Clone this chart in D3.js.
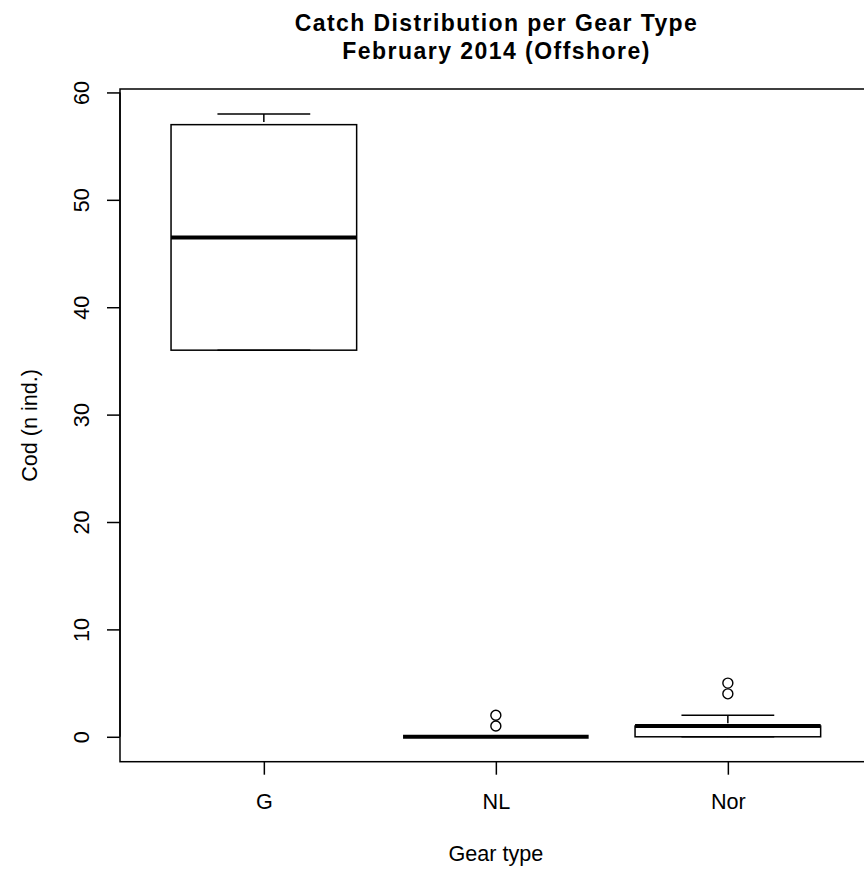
<!DOCTYPE html>
<html>
<head>
<meta charset="utf-8">
<script src="https://cdn.jsdelivr.net/npm/d3@7"></script>
<style>
  body { margin: 0; background: #fff; }
  svg { display: block; }
</style>
</head>
<body>
<svg id="chart" width="864" height="869"></svg>
<script>
// Box statistics per gear type (Cod, number of individuals)
const gearTypes   = ["G", "NL", "Nor"];
const whiskerLow  = [36, 0, 0];
const quartile1   = [36, 0, 0];
const medians     = [46.5, 0, 1];
const quartile3   = [57, 0, 1];
const whiskerHigh = [58, 0, 2];
const outliers    = [[], [1, 2], [4, 5]];

const yTicks = [0, 10, 20, 30, 40, 50, 60];
const titleLines = ["Catch Distribution per Gear Type", "February 2014 (Offshore)"];
const xTitle = "Gear type";
const yTitle = "Cod (n ind.)";

const svg = d3.select("#chart");
const plot = { left: 120, top: 89, bottom: 761.7, right: 871.7 };
const axisFont = "'Liberation Sans', Arial, Helvetica, sans-serif";
const axisSize = 21.6;

// x positions 1..n, padded like a base-graphics boxplot
const xLo = 0.5, xHi = gearTypes.length + 0.5, xPad = (xHi - xLo) * 0.04;
const x = d3.scaleLinear().domain([xLo - xPad, xHi + xPad]).range([plot.left, plot.right]);

const allVals = [].concat(whiskerLow, whiskerHigh, ...outliers);
const yMin = d3.min(allVals), yMax = d3.max(allVals), yPad = (yMax - yMin) * 0.04;
const y = d3.scaleLinear().domain([yMin - yPad, yMax + yPad]).range([plot.bottom, plot.top]);

const boxHalf = 0.4, capHalf = 0.2;
const g = svg.append("g");

gearTypes.forEach((name, i) => {
  const cx = i + 1;
  const grp = g.append("g").attr("fill", "none").attr("stroke", "#000");
  // dashed whiskers, drawn from the whisker end toward the hinge
  grp.append("line")
    .attr("x1", x(cx)).attr("x2", x(cx))
    .attr("y1", y(whiskerHigh[i])).attr("y2", y(quartile3[i]))
    .attr("stroke-width", 1.5).attr("stroke-dasharray", "8,8");
  grp.append("line")
    .attr("x1", x(cx)).attr("x2", x(cx))
    .attr("y1", y(whiskerLow[i])).attr("y2", y(quartile1[i]))
    .attr("stroke-width", 1.5).attr("stroke-dasharray", "8,8");
  // staples
  [whiskerLow[i], whiskerHigh[i]].forEach(v => {
    grp.append("line")
      .attr("x1", x(cx - capHalf)).attr("x2", x(cx + capHalf))
      .attr("y1", y(v)).attr("y2", y(v))
      .attr("stroke-width", 1.5);
  });
  // box
  grp.append("rect")
    .attr("x", x(cx - boxHalf))
    .attr("y", y(quartile3[i]))
    .attr("width", x(cx + boxHalf) - x(cx - boxHalf))
    .attr("height", y(quartile1[i]) - y(quartile3[i]))
    .attr("stroke-width", 1.5);
  // median
  grp.append("line")
    .attr("x1", x(cx - boxHalf)).attr("x2", x(cx + boxHalf))
    .attr("y1", y(medians[i])).attr("y2", y(medians[i]))
    .attr("stroke-width", 4).attr("stroke-linecap", "butt");
  // outliers
  grp.selectAll("circle.out").data(outliers[i]).enter().append("circle")
    .attr("class", "out")
    .attr("cx", x(cx)).attr("cy", d => y(d)).attr("r", 5)
    .attr("stroke-width", 1.4);
});

// plot frame
svg.append("rect")
  .attr("x", plot.left).attr("y", plot.top)
  .attr("width", plot.right - plot.left).attr("height", plot.bottom - plot.top)
  .attr("fill", "none").attr("stroke", "#000").attr("stroke-width", 1.5);

// y axis
const yAxis = svg.append("g")
  .attr("transform", `translate(${plot.left},0)`)
  .call(d3.axisLeft(y).tickValues(yTicks).tickSize(13).tickSizeOuter(0).tickFormat(d3.format("d")));
yAxis.select(".domain").remove();
yAxis.append("line")
  .attr("x1", 0).attr("x2", 0)
  .attr("y1", y(yTicks[0])).attr("y2", y(yTicks[yTicks.length - 1]))
  .attr("stroke", "#000").attr("stroke-width", 1.5);
yAxis.selectAll(".tick line").attr("stroke", "#000").attr("stroke-width", 1.5);
yAxis.selectAll(".tick text")
  .attr("transform", "rotate(-90)")
  .attr("x", 0).attr("y", -30.7).attr("dy", null)
  .attr("text-anchor", "middle")
  .attr("fill", "#000")
  .style("font-family", axisFont).style("font-size", axisSize + "px");

// x axis
const xAxis = svg.append("g")
  .attr("transform", `translate(0,${plot.bottom})`)
  .call(d3.axisBottom(x).tickValues(d3.range(1, gearTypes.length + 1))
    .tickSize(13).tickSizeOuter(0).tickFormat(d => gearTypes[d - 1]));
xAxis.select(".domain").remove();
xAxis.selectAll(".tick line").attr("stroke", "#000").attr("stroke-width", 1.5);
xAxis.selectAll(".tick text")
  .attr("y", 809 - plot.bottom).attr("dy", null)
  .attr("fill", "#000")
  .style("font-family", axisFont).style("font-size", axisSize + "px");

// axis titles
const midX = (plot.left + plot.right) / 2;
const midY = (plot.top + plot.bottom) / 2;
svg.append("text")
  .attr("x", midX).attr("y", 860.5)
  .attr("text-anchor", "middle")
  .style("font-family", axisFont).style("font-size", axisSize + "px")
  .text(xTitle);
svg.append("text")
  .attr("transform", `translate(36.5,${midY}) rotate(-90)`)
  .attr("text-anchor", "middle")
  .style("font-family", axisFont).style("font-size", axisSize + "px")
  .text(yTitle);

// main title, two bold lines with widened glyph spacing
const titleWidths = [402, 307];
svg.append("g").selectAll("text").data(titleLines).enter().append("text")
  .attr("x", midX)
  .attr("y", (d, i) => 31 + i * 27.5)
  .attr("text-anchor", "middle")
  .attr("textLength", (d, i) => titleWidths[i])
  .attr("lengthAdjust", "spacing")
  .style("font-family", axisFont)
  .style("font-weight", "bold")
  .style("font-size", "23px")
  .text(d => d);
</script>
</body>
</html>
